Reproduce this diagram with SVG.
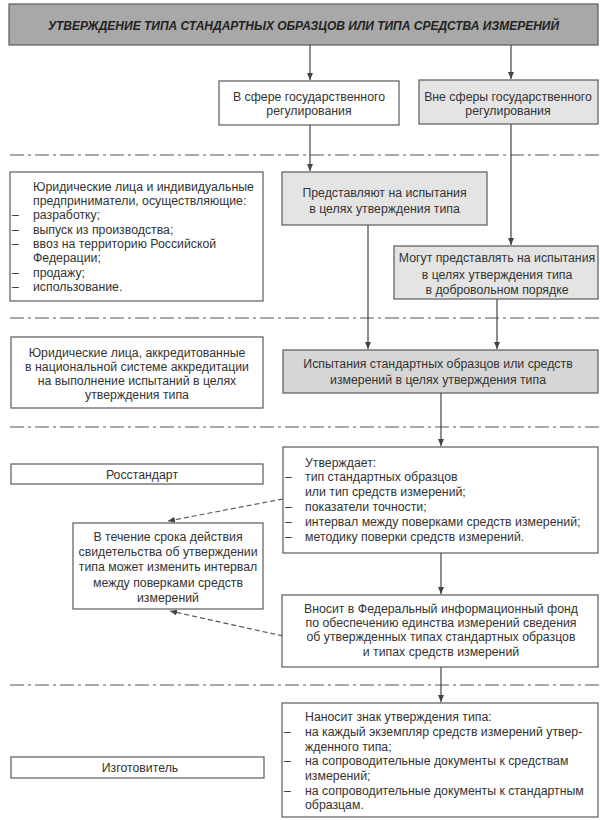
<svg xmlns="http://www.w3.org/2000/svg" width="600" height="820" viewBox="0 0 600 820">
<style>
  .box{stroke:#5a5a5a;stroke-width:1.2;fill:#ffffff}
  .g1{fill:#e4e4e4}
  .g2{fill:#d6d6d6}
  .t{font-family:"Liberation Sans",Arial,sans-serif;font-size:12.3px;fill:#333}
  .c{text-anchor:middle}
  .title{font-family:"Liberation Sans",Arial,sans-serif;font-size:12px;font-weight:bold;font-style:italic;fill:#222;text-anchor:middle}
  .sep{stroke:#555;stroke-width:1.2;stroke-dasharray:14 4 3 4;fill:none}
  .ln{stroke:#444;stroke-width:1.2;fill:none}
  .dl{stroke:#555;stroke-width:1.2;stroke-dasharray:5 3;fill:none}
</style>
<defs>
  <marker id="ah" markerWidth="8" markerHeight="8" refX="7" refY="4" orient="auto" markerUnits="userSpaceOnUse">
    <path d="M0,1 L7,4 L0,7 Z" fill="#444"/>
  </marker>
</defs>
<rect width="600" height="820" fill="#ffffff"/>

<g id="separators">
  <line class="sep" x1="10" y1="155" x2="600" y2="155"/>
  <line class="sep" x1="10" y1="318" x2="600" y2="318"/>
  <line class="sep" x1="10" y1="427" x2="600" y2="427"/>
  <line class="sep" x1="10" y1="685" x2="600" y2="685"/>
</g>

<g id="connectors">
  <line class="ln" x1="310" y1="45" x2="310" y2="80" marker-end="url(#ah)"/>
  <line class="ln" x1="511" y1="45" x2="511" y2="79" marker-end="url(#ah)"/>
  <line class="ln" x1="310" y1="125" x2="310" y2="171" marker-end="url(#ah)"/>
  <line class="ln" x1="511" y1="124" x2="511" y2="245" marker-end="url(#ah)"/>
  <line class="ln" x1="368" y1="225" x2="368" y2="349" marker-end="url(#ah)"/>
  <line class="ln" x1="497" y1="299" x2="497" y2="349" marker-end="url(#ah)"/>
  <line class="ln" x1="441" y1="393" x2="441" y2="446" marker-end="url(#ah)"/>
  <line class="ln" x1="441" y1="553" x2="441" y2="594" marker-end="url(#ah)"/>
  <line class="ln" x1="441" y1="667" x2="441" y2="702" marker-end="url(#ah)"/>
  <line class="dl" x1="283" y1="499" x2="168" y2="521" marker-end="url(#ah)"/>
  <line class="dl" x1="283" y1="636" x2="170" y2="611" marker-end="url(#ah)"/>
</g>

<g id="title">
  <rect class="box" x="9" y="4" width="589" height="41" style="fill:#a8a8a8"/>
  <text class="title" x="303.5" y="29.5">УТВЕРЖДЕНИЕ ТИПА СТАНДАРТНЫХ ОБРАЗЦОВ ИЛИ ТИПА СРЕДСТВА ИЗМЕРЕНИЙ</text>
</g>

<g id="in-sphere">
  <rect class="box" x="219" y="81" width="180" height="44"/>
  <text class="t c" x="309" y="101">В сфере государственного</text>
  <text class="t c" x="309" y="115">регулирования</text>
</g>

<g id="out-sphere">
  <rect class="box g1" x="419" y="80" width="179" height="44"/>
  <text class="t c" x="508" y="101">Вне сферы государственного</text>
  <text class="t c" x="508" y="115">регулирования</text>
</g>

<g id="legal-entities">
  <rect class="box" x="10" y="172" width="253" height="129"/>
  <text class="t" x="33" y="191">Юридические лица и индивидуальные</text>
  <text class="t" x="33" y="205">предприниматели, осуществляющие:</text>
  <text class="t" x="12" y="219">–</text><text class="t" x="33" y="219">разработку;</text>
  <text class="t" x="12" y="233.5">–</text><text class="t" x="33" y="233.5">выпуск из производства;</text>
  <text class="t" x="12" y="248">–</text><text class="t" x="33" y="248">ввоз на территорию Российской</text>
  <text class="t" x="33" y="262">Федерации;</text>
  <text class="t" x="12" y="276.5">–</text><text class="t" x="33" y="276.5">продажу;</text>
  <text class="t" x="12" y="291">–</text><text class="t" x="33" y="291">использование.</text>
</g>

<g id="submit">
  <rect class="box g1" x="282" y="172" width="205" height="53"/>
  <text class="t c" x="384.5" y="197">Представляют на испытания</text>
  <text class="t c" x="384.5" y="213">в целях утверждения типа</text>
</g>

<g id="may-submit">
  <rect class="box g1" x="394" y="246" width="204" height="53"/>
  <text class="t c" x="497" y="262">Могут представлять на испытания</text>
  <text class="t c" x="497" y="279">в целях утверждения типа</text>
  <text class="t c" x="497" y="294">в добровольном порядке</text>
</g>

<g id="accredited">
  <rect class="box" x="11" y="337" width="252" height="71"/>
  <text class="t c" x="137" y="357">Юридические лица, аккредитованные</text>
  <text class="t c" x="137" y="371">в национальной системе аккредитации</text>
  <text class="t c" x="137" y="385">на выполнение испытаний в целях</text>
  <text class="t c" x="137" y="399">утверждения типа</text>
</g>

<g id="tests">
  <rect class="box g2" x="283" y="350" width="315" height="43"/>
  <text class="t c" x="438" y="368">Испытания стандартных образцов или средств</text>
  <text class="t c" x="438" y="384">измерений в целях утверждения типа</text>
</g>

<g id="rosstandart">
  <rect class="box" x="11" y="464" width="252" height="20"/>
  <text class="t c" x="142" y="478.5">Росстандарт</text>
</g>

<g id="approves">
  <rect class="box" x="283" y="447" width="315" height="106"/>
  <text class="t" x="305" y="467">Утверждает:</text>
  <text class="t" x="285" y="481">–</text><text class="t" x="305" y="481">тип стандартных образцов</text>
  <text class="t" x="305" y="496">или тип средств измерений;</text>
  <text class="t" x="285" y="511">–</text><text class="t" x="305" y="511">показатели точности;</text>
  <text class="t" x="285" y="526">–</text><text class="t" x="305" y="526">интервал между поверками средств измерений;</text>
  <text class="t" x="285" y="541">–</text><text class="t" x="305" y="541">методику поверки средств измерений.</text>
</g>

<g id="may-change">
  <rect class="box" x="73" y="523" width="190" height="86"/>
  <text class="t c" x="168" y="541">В течение срока действия</text>
  <text class="t c" x="168" y="556">свидетельства об утверждении</text>
  <text class="t c" x="168" y="571">типа может изменить интервал</text>
  <text class="t c" x="168" y="587">между поверками средств</text>
  <text class="t c" x="168" y="602">измерений</text>
</g>

<g id="fund">
  <rect class="box" x="282" y="595" width="316" height="72"/>
  <text class="t c" x="441" y="613">Вносит в Федеральный информационный фонд</text>
  <text class="t c" x="441" y="627">по обеспечению единства измерений сведения</text>
  <text class="t c" x="441" y="641">об утвержденных типах стандартных образцов</text>
  <text class="t c" x="441" y="656">и типах средств измерений</text>
</g>

<g id="manufacturer">
  <rect class="box" x="11" y="757" width="253" height="21"/>
  <text class="t c" x="140" y="772">Изготовитель</text>
</g>

<g id="mark">
  <rect class="box" x="282" y="703" width="316" height="114"/>
  <text class="t" x="305" y="721">Наносит знак утверждения типа:</text>
  <text class="t" x="284" y="736">–</text><text class="t" x="305" y="736">на каждый экземпляр средств измерений утвер-</text>
  <text class="t" x="305" y="750.5">жденного типа;</text>
  <text class="t" x="284" y="765">–</text><text class="t" x="305" y="765">на сопроводительные документы к средствам</text>
  <text class="t" x="305" y="780">измерений;</text>
  <text class="t" x="284" y="794.5">–</text><text class="t" x="305" y="794.5">на сопроводительные документы к стандартным</text>
  <text class="t" x="305" y="809">образцам.</text>
</g>
</svg>
